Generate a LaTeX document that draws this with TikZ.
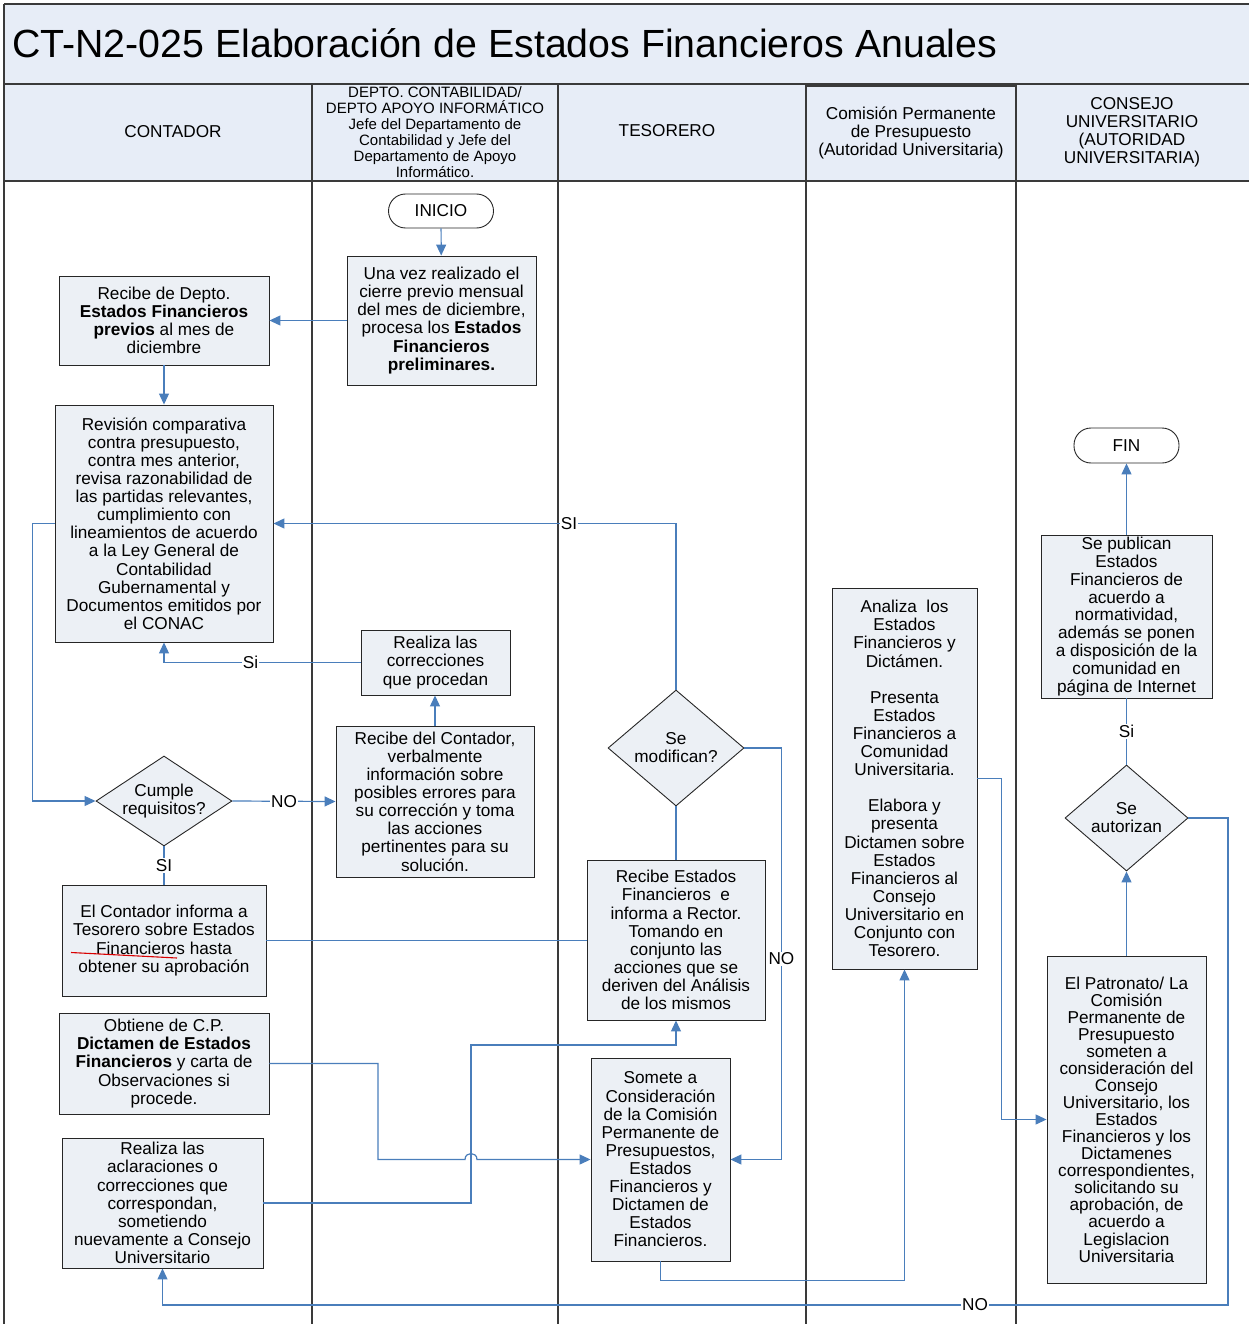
\documentclass[tikz,border=0pt]{standalone}
\usepackage{fontspec}
\setmainfont{Liberation Sans}
\usetikzlibrary{arrows.meta,shapes.geometric,calc}
\definecolor{boxfill}{RGB}{236,240,245}
\definecolor{headfill}{RGB}{231,237,247}
\definecolor{flowblue}{RGB}{74,126,187}
\definecolor{laneline}{RGB}{58,58,58}
\newcommand\bodyf{\fontsize{17.2}{18.1}\selectfont}
\newcommand\headf{\fontsize{15}{16}\selectfont}
\newcommand\titlef{\fontsize{39.3}{40}\selectfont}

\begin{document}
\begin{tikzpicture}[x=1pt,y=-1pt,
  proc/.style={draw=black!85, fill=boxfill, line width=0.9pt, align=center,
               inner sep=0pt, font=\bodyf},
  decide/.style={diamond, draw=black!85, fill=boxfill, line width=0.9pt,
               inner sep=0pt},
  dtext/.style={label={[align=center, inner sep=0pt, font=\bodyf]center:#1}},
  term/.style={draw=black!85, fill=white, line width=0.9pt, rounded corners=17pt,
               inner sep=0pt, font=\bodyf, minimum width=105pt, minimum height=34pt},
  headtext/.style={align=center, inner sep=0pt, font=\bodyf},
  lane/.style={draw=laneline, line width=1.6pt},
  conn/.style={draw=flowblue, line width=1.2pt},
  arr/.style={conn, -{Triangle[length=11pt,width=10pt]}},
  lab/.style={fill=white, inner sep=1pt, font=\bodyf}]

\useasboundingbox (0,0) rectangle (1249,1324);

% title bar and lane headers
\fill[headfill] (4,4) rectangle (1249,181);
\draw[lane] (4,4) -- (1249,4);
\draw[lane] (4,84) -- (1249,84);
\draw[lane] (4,181) -- (1249,181);
\draw[lane] (806,86) -- (1016,86);
\draw[lane] (4,4) -- (4,1324);
\draw[lane] (312,84) -- (312,1324);
\draw[lane] (558,84) -- (558,1324);
\draw[lane] (806,84) -- (806,1324);
\draw[lane] (1016,84) -- (1016,1324);

\node[anchor=west, inner sep=0pt, font=\titlef] (title) at (12,43)
  {CT-N2-025 Elaboración de Estados Financieros Anuales};

\node[headtext] (h1) at (173,132) {CONTADOR};
\node[headtext, font=\headf] (h2) at (435,132)
  {DEPTO. CONTABILIDAD/\\DEPTO APOYO INFORMÁTICO\\Jefe del Departamento de\\Contabilidad y Jefe del\\Departamento de Apoyo\\Informático.};
\node[headtext] (h3) at (667,131) {TESORERO};
\node[headtext] (h4) at (911,133) {Comisión Permanente\\de Presupuesto\\(Autoridad Universitaria)};
\node[headtext] (h5) at (1132,132) {CONSEJO\\UNIVERSITARIO\\(AUTORIDAD\\UNIVERSITARIA)};

% flow nodes
\node[term] (ini) at (441,211) {INICIO};
\node[proc, minimum width=189pt, minimum height=129pt] (A) at (441.5,320.5)
  {Una vez realizado el\\cierre previo mensual\\del mes de diciembre,\\procesa los \textbf{Estados}\\\textbf{Financieros}\\\textbf{preliminares.}};
\node[proc, minimum width=210pt, minimum height=89pt] (B) at (164,320.5)
  {Recibe de Depto.\\\textbf{Estados Financieros}\\\textbf{previos} al mes de\\diciembre};
\node[proc, minimum width=218pt, minimum height=237pt] (C) at (164,523.5)
  {Revisión comparativa\\contra presupuesto,\\contra mes anterior,\\revisa razonabilidad de\\las partidas relevantes,\\cumplimiento con\\lineamientos de acuerdo\\a la Ley General de\\Contabilidad\\Gubernamental y\\Documentos emitidos por\\el CONAC};
\node[proc, minimum width=149pt, minimum height=65pt] (D) at (435.5,662.5)
  {Realiza las\\correcciones\\que procedan};
\node[decide, minimum width=136pt, minimum height=90pt,
      dtext={Cumple\\requisitos?}] (E) at (164,801) {};
\node[proc, minimum width=198pt, minimum height=151pt] (F) at (435,801.5)
  {Recibe del Contador,\\verbalmente\\información sobre\\posibles errores para\\su corrección y toma\\las acciones\\pertinentes para su\\solución.};
\node[proc, minimum width=204pt, minimum height=111pt] (G) at (164,940.5)
  {El Contador informa a\\Tesorero sobre Estados\\Financieros hasta\\obtener su aprobación};
\node[proc, minimum width=210pt, minimum height=101pt] (H) at (164,1063.5)
  {Obtiene de C.P.\\\textbf{Dictamen de Estados}\\\textbf{Financieros} y carta de\\Observaciones si\\procede.};
\node[proc, minimum width=201pt, minimum height=130pt] (I) at (162.5,1203)
  {Realiza las\\aclaraciones o\\correcciones que\\correspondan,\\sometiendo\\nuevamente a Consejo\\Universitario};
\node[decide, minimum width=136pt, minimum height=116pt,
      dtext={Se\\modifican?}] (J) at (676,748) {};
\node[proc, minimum width=178pt, minimum height=160pt] (K) at (676,940)
  {Recibe Estados\\Financieros\ \ e\\informa a Rector.\\Tomando en\\conjunto las\\acciones que se\\deriven del Análisis\\de los mismos};
\node[proc, minimum width=139pt, minimum height=203pt] (L) at (660.5,1159.5)
  {Somete a\\Consideración\\de la Comisión\\Permanente de\\Presupuestos,\\Estados\\Financieros y\\Dictamen de\\Estados\\Financieros.};
\node[proc, minimum width=145pt, minimum height=381pt] (M) at (904.5,778.5)
  {Analiza\ \ los\\Estados\\Financieros y\\Dictámen.\\[18.1pt]Presenta\\Estados\\Financieros a\\Comunidad\\Universitaria.\\[18.1pt]Elabora y\\presenta\\Dictamen sobre\\Estados\\Financieros al\\Consejo\\Universitario en\\Conjunto con\\Tesorero.};
\node[term, minimum height=35pt] (fin) at (1126.5,445.5) {FIN};
\node[proc, minimum width=171pt, minimum height=163pt,
      font=\fontsize{17.2}{17.9}\selectfont] (N) at (1126.5,616.5)
  {Se publican\\Estados\\Financieros de\\acuerdo a\\normatividad,\\además se ponen\\a disposición de la\\comunidad en\\página de Internet};
\node[decide, minimum width=123pt, minimum height=106pt,
      dtext={Se\\autorizan}] (O) at (1126.5,818) {};
\node[proc, minimum width=159pt, minimum height=327pt,
      font=\fontsize{17.2}{17.05}\selectfont] (P) at (1126.5,1119.5)
  {El Patronato/ La\\Comisión\\Permanente de\\Presupuesto\\someten a\\consideración del\\Consejo\\Universitario, los\\Estados\\Financieros y los\\Dictamenes\\correspondientes,\\solicitando su\\aprobación, de\\acuerdo a\\Legislacion\\Universitaria};

% red mark under "Financieros"
\draw[red!85!black, line width=1.1pt] (71,952.5) -- (177,958);

% connectors
\coordinate (hopx) at (378,0);
\coordinate (upx) at (471,1045);
\coordinate (noturn) at (1228,1305);

\draw[arr] (ini) -- (A);
\draw[arr] (A.west) -- (B.east);
\draw[arr] (B) -- (C);
\draw[arr] (C.west) -- ++(-22,0) |- (E.west);
\draw[arr] (E.east) -- node[lab]{NO} (F.west);
\draw[arr] (F.north) -- (F.north |- D.south);
\draw[arr] (D.west) -| node[lab, pos=0.28]{Si} (C.south);
\draw[conn] (E.south) -- node[lab]{SI} (G.north);
\draw[conn] (G.east) -- (G.east -| K.west);
\draw[conn] (J.south) -- (K.north);
\draw[arr] (J.north) |- node[lab, pos=0.633]{SI} (C.east);
\draw[arr] (J.east) -- ++(37,0) |- node[lab, pos=0.256]{NO} (L.east);
\draw[arr] (H.east) -| (hopx |- L.west) -- (465,1159.5)
  .. controls (465,1151.5) and (477,1151.5) .. (477,1159.5) -- (L.west);
\draw[arr] (I.east) -| (upx) -| (K.south);
\draw[arr] (L.south) -- ++(0,19) -| (M.south);
\draw[arr] (M.east) -- ++(24,0) |- (P.west);
\draw[arr] (P) -- (O);
\draw[conn] (O.north) -- node[lab]{Si} (N.south);
\draw[arr] (N) -- (fin);
\draw[arr] (O.east) -| (noturn) -| node[lab, pos=0.1187]{NO} (I.south);

\end{tikzpicture}
\end{document}
